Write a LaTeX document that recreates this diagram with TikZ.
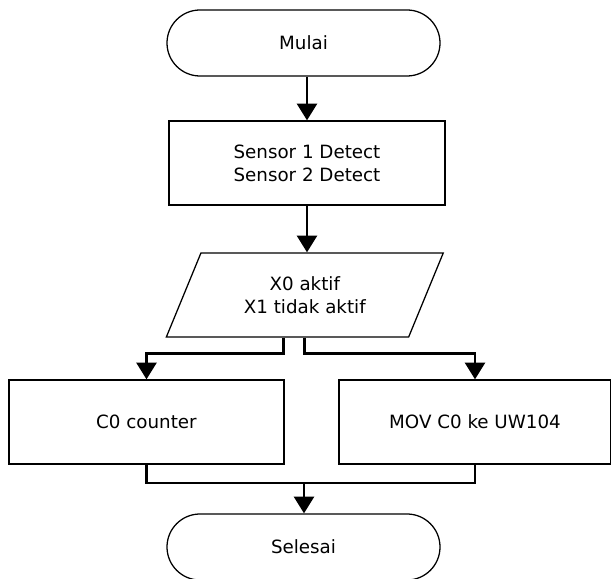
\documentclass[tikz,border=0pt]{standalone}
\usepackage{fontspec}
\setmainfont{DejaVu Sans}
\usepackage{tikz}
\usetikzlibrary{shapes.geometric, shapes.misc, arrows.meta, positioning, calc}

\begin{document}
\begin{tikzpicture}[
    font=\fontsize{13}{16.3}\selectfont,
    terminal/.style={rounded rectangle, draw, line width=0.9pt, minimum width=6.825cm, minimum height=1.65cm, inner sep=0pt, align=center},
    process/.style={rectangle, draw, line width=0.9pt, minimum height=2.1cm, inner sep=0pt, align=center},
    data/.style={trapezium, trapezium left angle=61.3, trapezium right angle=118.7, trapezium stretches=true, draw, line width=0.9pt, minimum width=6.925cm, minimum height=2.1cm, inner sep=0pt, align=center},
    arrow/.style={-{Triangle[length=0.42cm, width=0.5cm]}, line width=2pt},
    line/.style={line width=2pt}
]
    \useasboundingbox (0,0) rectangle (15.275,-14.475);

    % Flow steps
    \node[terminal] (mulai) at (7.5875,-1.075) {Mulai};
    \node[process, minimum width=6.9cm] (sensor) at (7.675,-4.075) {Sensor 1 Detect\\Sensor 2 Detect};
    \node[data] (input) at (7.62,-7.375) {X0 aktif\\X1 tidak aktif};
    \node[process, minimum width=6.875cm] (counter) at (3.6625,-10.55) {C0 counter};
    \node[process, minimum width=6.8cm] (mov) at (11.875,-10.55) {MOV C0 ke UW104};
    \node[terminal] (selesai) at (7.5875,-13.675) {Selesai};

    % Arrows
    \draw[arrow] (sensor.north |- mulai.south) -- (sensor);
    \draw[arrow] (sensor) -- (sensor |- input.north);
    \draw[arrow] ($(input.south)+(-0.525,0)$) -- ++(0,-0.4) -| (counter);
    \draw[arrow] (input.south) -- ++(0,-0.4) -| (mov);

    % Merge
    \coordinate (merge) at (7.6,-12.075);
    \draw[line] (counter) |- (merge);
    \draw[line] (mov) |- (merge);
    \draw[arrow] (merge) -- (merge |- selesai.north);
\end{tikzpicture}
\end{document}
